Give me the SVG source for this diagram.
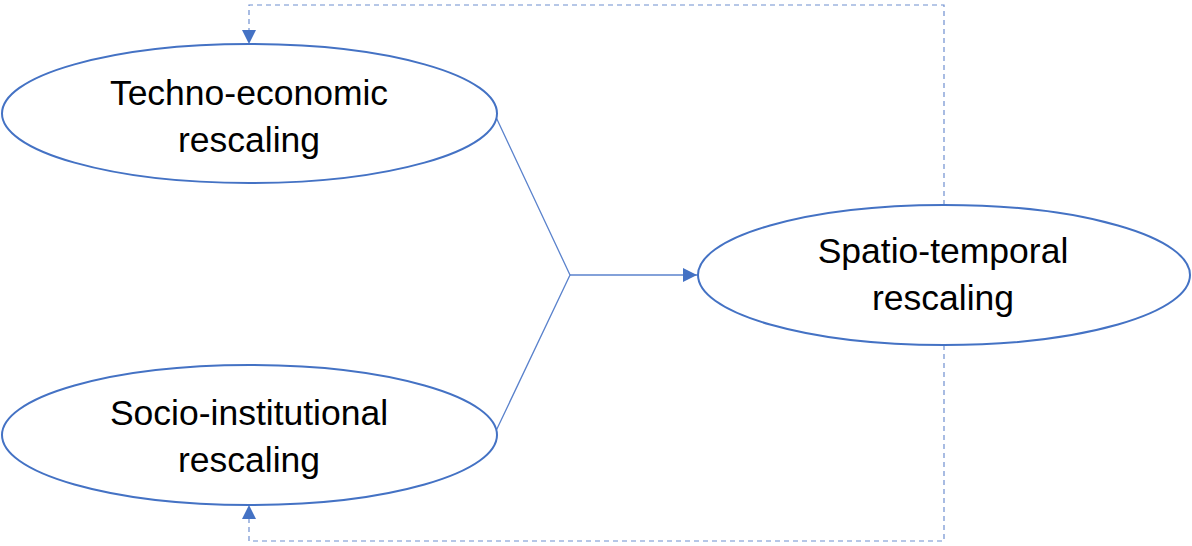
<svg xmlns="http://www.w3.org/2000/svg" width="1192" height="546" viewBox="0 0 1192 546">
<style>
.node{fill:#fff;stroke:#4472C4;stroke-width:2}
.lbl{font-family:"Liberation Sans",Arial,sans-serif;font-size:35.5px;fill:#000;text-anchor:middle}
.solid{fill:none;stroke:#5A82CC;stroke-width:1.3}
.dash{fill:none;stroke:#6F8FD0;stroke-width:1.2;stroke-dasharray:5 4}
</style>
<defs>
<marker id="ah2" viewBox="0 0 10 10" refX="10" refY="5" markerWidth="14" markerHeight="14" markerUnits="userSpaceOnUse" orient="auto">
<path d="M0,0 L10,5 L0,10 z" fill="#4472C4"/>
</marker>
</defs>
<g id="connectors">
<path class="solid" d="M495,115 L570,275 L495,433"/>
<path class="solid" d="M570,275 L697,275" marker-end="url(#ah2)"/>
<path class="dash" d="M944,205 L944,5 L249,5 L249,44" marker-end="url(#ah2)"/>
<path class="dash" d="M944,345 L944,541 L249,541 L249,505" marker-end="url(#ah2)"/>
</g>
<g id="techno">
<ellipse class="node" cx="249.5" cy="113.5" rx="247.5" ry="69.5"/>
<text class="lbl" x="249" y="105">Techno-economic</text>
<text class="lbl" x="249" y="152">rescaling</text>
</g>
<g id="socio">
<ellipse class="node" cx="249.5" cy="435" rx="247.5" ry="70"/>
<text class="lbl" x="249" y="425">Socio-institutional</text>
<text class="lbl" x="249" y="472">rescaling</text>
</g>
<g id="spatio">
<ellipse class="node" cx="944" cy="275" rx="246" ry="70"/>
<text class="lbl" x="943" y="263">Spatio-temporal</text>
<text class="lbl" x="943" y="310">rescaling</text>
</g>
</svg>
